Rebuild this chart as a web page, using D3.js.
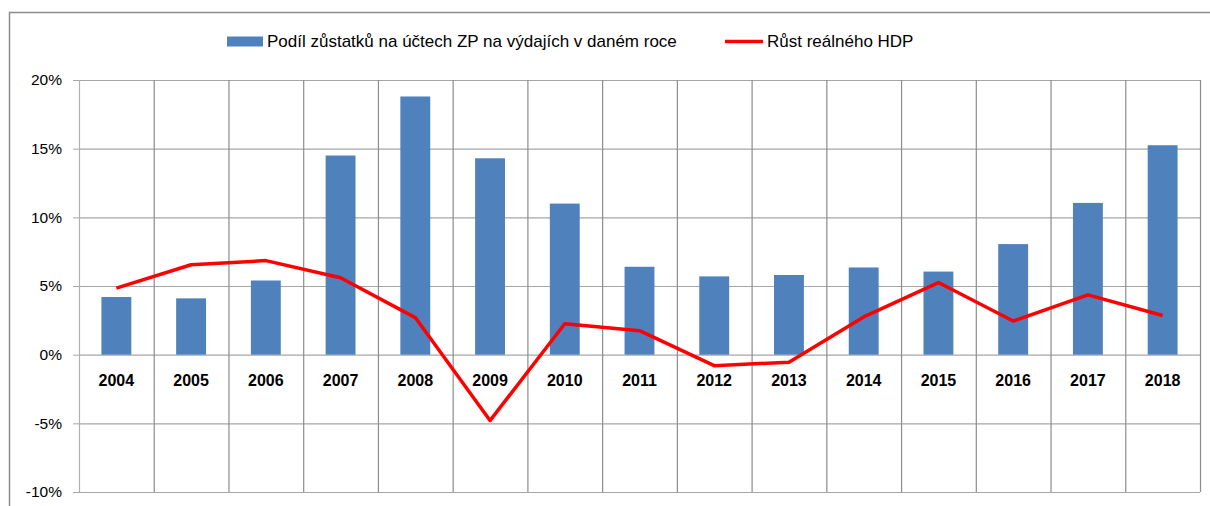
<!DOCTYPE html>
<html>
<head>
<meta charset="utf-8">
<script src="https://cdn.jsdelivr.net/npm/d3@7"></script>
<style>
  body { margin: 0; background: #fff; }
  text { font-family: "Liberation Sans", Arial, sans-serif; fill: #000; }
</style>
</head>
<body>
<div id="graf"></div>
<script>
const roky = ['2004','2005','2006','2007','2008','2009','2010','2011','2012','2013','2014','2015','2016','2017','2018']
const podilZustatku = [4.2, 4.1, 5.4, 14.5, 18.8, 14.3, 11.0, 6.4, 5.7, 5.8, 6.35, 6.05, 8.05, 11.05, 15.25]
const rustHdp = [4.85, 6.55, 6.85, 5.6, 2.7, -4.8, 2.25, 1.75, -0.8, -0.55, 2.75, 5.25, 2.45, 4.35, 2.85]
const yTicks = [-10, -5, 0, 5, 10, 15, 20]
const nazvy = ['Podíl zůstatků na účtech ZP na výdajích v daném roce', 'Růst reálného HDP']

const width = 1210
const height = 506
const margin = {left: 79, right: 10, top: 80, bottom: 14}

const svg = d3.select('#graf')
              .append('svg')
              .attr('width', width)
              .attr('height', height)

// ramecek grafu
svg.append('path')
   .attr('d', `M9.5,${height} V12.5 H${width}`)
   .attr('fill', 'none')
   .attr('stroke', '#8c8c8c')
   .attr('stroke-width', 1.5)

const x = d3.scaleBand()
            .domain(roky)
            .range([margin.left, width - margin.right])
            .paddingInner(0)
            .paddingOuter(0)

const y = d3.scaleLinear()
            .domain([-10, 20])
            .range([height - margin.bottom, margin.top])

// vodorovna mrizka + popisky osy y
const osaY = svg.append('g')
                .attr('transform', `translate(${margin.left},0)`)
                .call(d3.axisLeft(y)
                        .tickValues(yTicks)
                        .tickSize(-(width - margin.right - margin.left))
                        .tickSizeOuter(0)
                        .tickPadding(17)
                        .tickFormat(d => d + '%'))
osaY.select('.domain').remove()
osaY.selectAll('line').attr('stroke', '#a6a6a6').attr('stroke-width', 1.2)
osaY.selectAll('text').style('font-size', '15.5px').style('font-family', '"Liberation Sans", Arial, sans-serif')
osaY.selectAll('.tick')
    .append('line')
    .attr('x1', -6)
    .attr('x2', 0)
    .attr('stroke', '#a6a6a6')

// svisla mrizka
const hranice = roky.map(r => x(r)).concat([x(roky[roky.length - 1]) + x.bandwidth()])
svg.append('g')
   .selectAll('line')
   .data(hranice)
   .enter()
   .append('line')
   .attr('x1', d => d + 0.5)
   .attr('x2', d => d + 0.5)
   .attr('y1', y(20))
   .attr('y2', y(-10))
   .attr('stroke', (d, i) => i === 0 ? '#b0b0b0' : '#8c8c8c')
   .attr('stroke-width', 1.2)

// sloupce
const sirka = x.bandwidth() * 0.4
svg.append('g')
   .selectAll('rect')
   .data(podilZustatku)
   .enter()
   .append('rect')
   .attr('x', (d, i) => x(roky[i]) + (x.bandwidth() - sirka) / 2)
   .attr('y', d => y(d))
   .attr('width', sirka)
   .attr('height', d => y(0) - y(d))
   .attr('fill', '#4f81bd')

// popisky let
svg.append('g')
   .selectAll('text')
   .data(roky)
   .enter()
   .append('text')
   .attr('x', d => x(d) + x.bandwidth() / 2)
   .attr('y', y(0) + 31)
   .attr('text-anchor', 'middle')
   .style('font-size', '16px')
   .style('font-weight', 'bold')
   .text(d => d)

// cara HDP
const cara = d3.line()
               .x((d, i) => x(roky[i]) + x.bandwidth() / 2)
               .y(d => y(d))

svg.append('path')
   .datum(rustHdp)
   .attr('d', cara)
   .attr('fill', 'none')
   .attr('stroke', '#ff0000')
   .attr('stroke-width', 3.5)
   .attr('stroke-linejoin', 'round')

// legenda
const legenda = svg.append('g')
legenda.append('rect')
       .attr('x', 227)
       .attr('y', 36.5)
       .attr('width', 36)
       .attr('height', 10)
       .attr('fill', '#4f81bd')
legenda.append('text')
       .attr('x', 267)
       .attr('y', 47)
       .style('font-size', '17px')
       .text(nazvy[0])
legenda.append('line')
       .attr('x1', 725)
       .attr('x2', 763)
       .attr('y1', 41.5)
       .attr('y2', 41.5)
       .attr('stroke', '#ff0000')
       .attr('stroke-width', 3.5)
legenda.append('text')
       .attr('x', 767)
       .attr('y', 47)
       .style('font-size', '17px')
       .text(nazvy[1])
</script>
</body>
</html>
